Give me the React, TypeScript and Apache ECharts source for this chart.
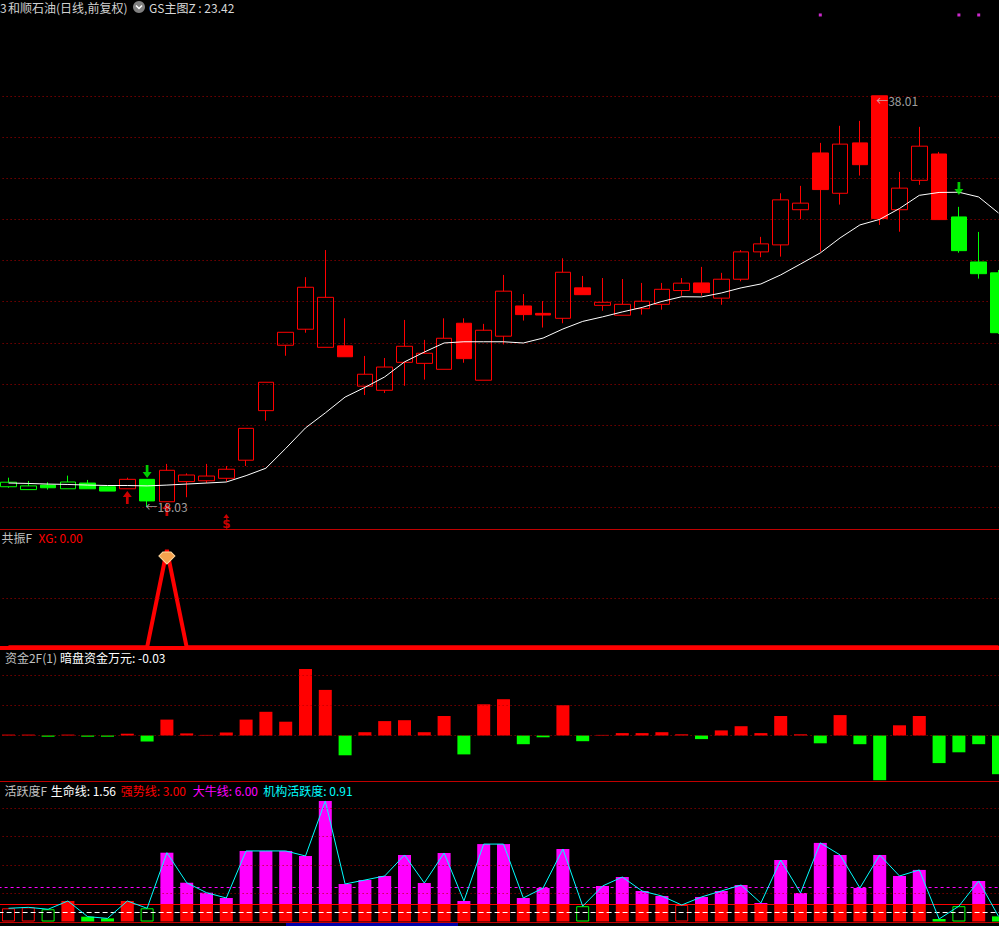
import React, { useEffect, useRef } from 'react';
import * as echarts from 'echarts';

// ---------- data ----------
const categories: string[] = Array.from({ length: 51 }, (_, i) => `K${i + 1}`);

const opens = [19.00, 18.86, 19.08, 18.90, 19.18, 19.00, 18.90, 19.36, 18.27, 19.25, 19.29, 19.41, 20.29, 22.70, 25.88, 26.66, 25.78, 25.85, 23.89, 23.69, 25.05, 25.00, 24.71, 26.95, 24.18, 26.32, 27.79, 27.43, 27.19, 28.67, 27.82, 27.34, 27.66, 27.87, 28.54, 28.91, 28.17, 29.09, 30.42, 30.76, 32.47, 35.23, 33.27, 35.72, 38.01, 32.47, 33.90, 35.18, 32.12, 29.93, 29.40];
const closes = [19.22, 19.04, 18.95, 19.23, 18.90, 18.79, 19.36, 18.31, 19.80, 19.57, 19.52, 19.85, 21.84, 24.08, 26.51, 28.70, 28.21, 25.32, 24.47, 24.82, 25.83, 25.49, 26.22, 25.23, 26.61, 28.51, 27.37, 27.35, 29.43, 28.34, 27.97, 27.87, 28.02, 28.60, 28.90, 28.44, 29.09, 30.42, 30.81, 32.95, 32.79, 33.45, 35.66, 34.66, 32.04, 33.52, 35.56, 31.99, 30.48, 29.36, 26.49];
const lows = [18.95, 18.86, 18.86, 18.90, 18.90, 18.79, 18.90, 18.03, 18.27, 18.49, 19.17, 19.25, 20.01, 22.21, 25.37, 26.49, 25.78, 25.32, 23.46, 23.56, 23.91, 24.21, 24.71, 25.03, 24.18, 25.92, 27.08, 26.74, 26.95, 28.34, 27.56, 27.34, 27.37, 27.61, 28.29, 28.29, 27.85, 28.99, 30.16, 30.19, 32.01, 30.43, 32.72, 34.13, 31.73, 31.40, 33.68, 31.99, 30.38, 29.12, 26.43];
const highs = [19.44, 19.28, 19.22, 19.54, 19.33, 19.00, 19.44, 19.36, 20.11, 19.65, 20.11, 20.01, 21.84, 24.08, 26.51, 29.19, 30.51, 27.19, 25.36, 25.26, 27.11, 26.14, 27.19, 27.19, 26.92, 29.30, 28.37, 28.03, 30.11, 29.25, 29.15, 29.10, 28.91, 28.91, 29.15, 29.69, 29.40, 30.51, 31.15, 33.27, 33.63, 35.72, 36.55, 36.79, 38.01, 34.31, 36.50, 35.28, 32.61, 31.39, 29.54];
// g = hollow green, G = solid green, r = hollow red, R = solid red
const candleKinds = ['g', 'g', 'G', 'g', 'G', 'G', 'r', 'G', 'r', 'r', 'r', 'r', 'r', 'r', 'r', 'r', 'r', 'R', 'r', 'r', 'r', 'r', 'r', 'R', 'r', 'r', 'R', 'R', 'r', 'R', 'r', 'r', 'r', 'r', 'r', 'R', 'r', 'r', 'r', 'r', 'r', 'R', 'r', 'R', 'R', 'r', 'r', 'R', 'G', 'G', 'G'];
const maLine = [19.18, 19.16, 19.13, 19.11, 19.08, 19.06, 19.06, 19.04, 19.08, 19.13, 19.18, 19.23, 19.54, 19.90, 20.86, 21.86, 22.59, 23.36, 23.83, 24.34, 25.07, 25.55, 25.99, 26.05, 26.05, 26.05, 25.99, 26.23, 26.67, 27.04, 27.26, 27.50, 27.72, 28.01, 28.24, 28.23, 28.42, 28.67, 28.86, 29.30, 29.83, 30.37, 31.10, 31.73, 32.00, 32.53, 33.17, 33.31, 33.32, 33.09, 32.31];
const priceTicks = { min: 18, max: 38, step: 2 };
const buyArrows = [[6, 18.79], [8, 18.21]];
const sellArrows = [[7, 19.43], [48, 33.19]];
const extremeLabels = [[7, 18.03], [44, 38.01]];
const dollarMarks = [[11, 17.29]];
const topDots = [[41, 41.94], [48, 41.94], [49, 41.94]];

const xgValues = [0, 0, 0, 0, 0, 0, 0, 0, 1, 0, 0, 0, 0, 0, 0, 0, 0, 0, 0, 0, 0, 0, 0, 0, 0, 0, 0, 0, 0, 0, 0, 0, 0, 0, 0, 0, 0, 0, 0, 0, 0, 0, 0, 0, 0, 0, 0, 0, 0, 0, 0];

const fundValues = [0.03, 0.03, -0.04, 0.03, -0.04, -0.04, 0.06, -0.2, 0.53, 0.07, 0.02, 0.1, 0.53, 0.79, 0.46, 2.22, 1.52, -0.66, 0.11, 0.48, 0.51, 0.11, 0.65, -0.63, 1.04, 1.21, -0.29, -0.06, 1.01, -0.19, 0.02, 0.08, 0.08, 0.11, 0.04, -0.12, 0.17, 0.31, 0.08, 0.65, 0.04, -0.26, 0.68, -0.29, -1.49, 0.34, 0.65, -0.92, -0.56, -0.29, -1.29];
const fundGrid = [0, 1, 2];

const activity = [2.33, 2.5, 2.16, 3.62, 0.85, 0.55, 3.62, 2.33, 12.14, 6.84, 5.08, 4.15, 12.45, 12.45, 12.45, 11.56, 21.27, 6.62, 7.32, 8.03, 11.74, 6.79, 12.09, 3.62, 13.66, 13.66, 4.15, 5.91, 12.79, 2.7, 6.26, 7.85, 5.38, 4.5, 2.91, 4.33, 5.38, 6.44, 3.26, 10.85, 5.03, 13.87, 11.74, 5.91, 11.74, 8.03, 9.1, 0.44, 2.7, 7.15, 0.91];
// M = magenta over red base, R = solid red, r = hollow red, g = hollow green, G = solid green
const activityKinds = ['r', 'r', 'g', 'R', 'G', 'G', 'R', 'g', 'M', 'M', 'M', 'M', 'M', 'M', 'M', 'M', 'M', 'M', 'M', 'M', 'M', 'M', 'M', 'M', 'M', 'M', 'M', 'M', 'M', 'g', 'M', 'M', 'M', 'M', 'r', 'M', 'M', 'M', 'M', 'M', 'M', 'M', 'M', 'M', 'M', 'M', 'M', 'G', 'g', 'M', 'G'];
const lifeLine = 1.56;
const strongLine = 3.0;
const bullLine = 6.0;
const activityGrid = [5, 10, 15, 20];

// ---------- styles ----------
const RED = '#ff0000';
const GREEN = '#00ff00';
const MAGENTA = '#ff00ff';
const CYAN = '#00ffff';
const GRIDRED = '#b00000';
const FONT = "'Noto Sans CJK SC', 'DejaVu Sans', sans-serif";
const DOT: any = [1, 3];
const UP_ARROW = 'path://M5,0 L10,6 L6.5,6 L6.5,13 L3.5,13 L3.5,6 L0,6 Z';
const DOWN_ARROW = 'path://M3.5,0 L6.5,0 L6.5,7 L10,7 L5,13 L0,7 L3.5,7 Z';
const GEM = 'path://M4,0 L12,0 L16,4 L8,12 L0,4 Z';

// the chart canvas is a bit wider than the page so the first and last bars are cut like the reference
const OX = 2; // page x = canvas x - OX
const CANVAS_W = 1012;

function styleFor(kind: string) {
  const isRed = kind === 'r' || kind === 'R' || kind === 'M';
  const c = isRed ? RED : GREEN;
  const hollow = kind === 'r' || kind === 'g';
  return {
    color: hollow ? 'rgba(0,0,0,0)' : c,
    color0: hollow ? 'rgba(0,0,0,0)' : c,
    borderColor: c,
    borderColor0: c,
    borderWidth: 1,
  };
}

function hText(text: string, x: number, y: number, fill: string, align = 'left') {
  return {
    type: 'text',
    silent: true,
    style: { text, x: x + OX, y, fill, fontSize: 12, fontFamily: FONT, align, verticalAlign: 'middle' },
  };
}

function hLine(y: number, color: string) {
  return {
    type: 'line',
    silent: true,
    shape: { x1: 0, y1: y, x2: CANVAS_W, y2: y },
    style: { stroke: color, lineWidth: 1 },
  };
}

export default function App() {
  const ref = useRef<HTMLDivElement>(null);

  useEffect(() => {
    document.body.style.margin = '0';
    document.body.style.background = '#000';
    document.body.style.overflow = 'hidden';
    if (!ref.current) return;
    const chart = echarts.init(ref.current, undefined, { renderer: 'svg' });

    const gl = 0.6;
    const gr = 1.6;
    const grids = [
      { left: gl, right: gr, top: 96, height: 411.3 },
      { left: gl, right: gr, top: 550, height: 97.3 },
      { left: gl, right: gr, top: 660.5, height: 120 },
      { left: gl, right: gr, top: 785.5, height: 136 },
    ];

    const xAxes = grids.map((_, k) => ({
      type: 'category',
      gridIndex: k,
      data: categories,
      boundaryGap: true,
      show: false,
    }));

    const dotted = { color: GRIDRED, type: DOT, width: 1 };

    const candleData = opens.map((o, i) => ({
      value: [o, closes[i], lows[i], highs[i]],
      itemStyle: styleFor(candleKinds[i]),
    }));

    const fundData = fundValues.map((v) => ({
      value: v,
      itemStyle: { color: v >= 0 ? RED : GREEN },
    }));

    const baseData = activity.map((v, i) => {
      const k = activityKinds[i];
      const st = styleFor(k);
      return {
        value: k === 'M' ? strongLine : v,
        itemStyle: { color: st.color, borderColor: st.borderColor, borderWidth: k === 'r' || k === 'g' ? 1 : 0 },
      };
    });
    const topData = activity.map((v, i) => (activityKinds[i] === 'M' ? v - strongLine : '-'));

    const mkLine = (data: any[]) => ({
      silent: true,
      symbol: ['none', 'none'],
      label: { show: false },
      animation: false,
      data,
    });

    const option: any = {
      animation: false,
      backgroundColor: '#000000',
      grid: grids,
      xAxis: xAxes,
      yAxis: [
        {
          type: 'value',
          gridIndex: 0,
          min: priceTicks.min,
          max: priceTicks.max,
          interval: priceTicks.step,
          axisLine: { show: false },
          axisTick: { show: false },
          axisLabel: { show: false },
          splitLine: { show: true, lineStyle: dotted },
        },
        { type: 'value', gridIndex: 1, min: 0, max: 1, show: false, splitLine: { show: false } },
        { type: 'value', gridIndex: 2, min: -1.5, max: 2.5, show: false, splitLine: { show: false } },
        { type: 'value', gridIndex: 3, min: 0, max: 24, show: false, splitLine: { show: false } },
      ],
      series: [
        {
          type: 'candlestick',
          xAxisIndex: 0,
          yAxisIndex: 0,
          barWidth: 16,
          clip: false,
          data: candleData,
          z: 3,
        },
        {
          type: 'line',
          xAxisIndex: 0,
          yAxisIndex: 0,
          data: maLine,
          symbol: 'none',
          lineStyle: { color: '#ffffff', width: 1 },
          z: 5,
        },
        {
          type: 'scatter',
          xAxisIndex: 0,
          yAxisIndex: 0,
          clip: false,
          symbol: UP_ARROW,
          symbolSize: [9, 13],
          symbolOffset: [0, 6.5],
          itemStyle: { color: RED },
          data: buyArrows,
          z: 6,
        },
        {
          type: 'scatter',
          xAxisIndex: 0,
          yAxisIndex: 0,
          clip: false,
          symbol: DOWN_ARROW,
          symbolSize: [9, 13],
          symbolOffset: [0, -6.5],
          itemStyle: { color: GREEN },
          data: sellArrows,
          z: 6,
        },
        {
          type: 'scatter',
          xAxisIndex: 0,
          yAxisIndex: 0,
          clip: false,
          symbolSize: 1,
          itemStyle: { color: 'rgba(0,0,0,0)' },
          data: extremeLabels.map((p, k) => ({
            value: p,
            label: {
              show: true,
              position: 'right',
              distance: 0,
              formatter: '←' + p[1].toFixed(2),
              color: '#c8c8c8',
              fontSize: 12,
              fontFamily: FONT,
              offset: k === 0 ? [-2, 0] : [-4, 5],
            },
          })),
          z: 6,
        },
        {
          type: 'scatter',
          xAxisIndex: 0,
          yAxisIndex: 0,
          clip: false,
          symbol: 'triangle',
          symbolSize: [6, 4],
          symbolOffset: [0, -6],
          itemStyle: { color: RED },
          data: dollarMarks,
          label: {
            show: true,
            position: 'inside',
            offset: [0, 8],
            formatter: '$',
            color: RED,
            fontSize: 12,
            fontWeight: 'bold',
            fontFamily: 'DejaVu Sans',
          },
          z: 6,
        },
        {
          type: 'scatter',
          xAxisIndex: 0,
          yAxisIndex: 0,
          clip: false,
          symbol: 'rect',
          symbolSize: 3,
          itemStyle: { color: '#ff33ff' },
          data: topDots,
          z: 6,
        },
        {
          type: 'line',
          xAxisIndex: 1,
          yAxisIndex: 1,
          data: xgValues,
          symbol: 'none',
          clip: false,
          lineStyle: { color: RED, width: 4 },
          z: 4,
          markLine: mkLine([
            { yAxis: 0.5, lineStyle: dotted },
            { yAxis: 0, lineStyle: { color: RED, width: 4, type: 'solid' } },
          ]),
          markPoint: {
            silent: true,
            animation: false,
            data: [
              {
                coord: [categories[xgValues.indexOf(1)], 1],
                symbol: GEM,
                symbolSize: [16, 12],
                symbolOffset: [0, 8],
                itemStyle: { color: '#f6a24e', borderColor: '#ffd9a0', borderWidth: 1 },
                label: { show: false },
              },
            ],
          },
        },
        {
          type: 'bar',
          xAxisIndex: 2,
          yAxisIndex: 2,
          barWidth: 13,
          data: fundData,
          z: 3,
          markLine: mkLine(fundGrid.map((v) => ({ yAxis: v, lineStyle: dotted }))),
        },
        {
          type: 'bar',
          xAxisIndex: 3,
          yAxisIndex: 3,
          stack: 'act',
          barWidth: 13,
          data: baseData,
          z: 3,
        },
        {
          type: 'bar',
          xAxisIndex: 3,
          yAxisIndex: 3,
          stack: 'act',
          barWidth: 13,
          data: topData,
          itemStyle: { color: MAGENTA },
          z: 3,
        },
        {
          type: 'line',
          xAxisIndex: 3,
          yAxisIndex: 3,
          data: activity,
          symbol: 'none',
          lineStyle: { color: CYAN, width: 1 },
          z: 5,
          markLine: mkLine([
            ...activityGrid.map((v) => ({ yAxis: v, lineStyle: dotted })),
            { yAxis: bullLine, lineStyle: { color: MAGENTA, width: 1, type: [3, 3] } },
            { yAxis: strongLine, lineStyle: { color: RED, width: 1, type: 'solid' } },
            { yAxis: lifeLine, lineStyle: { color: '#ffffff', width: 1, type: [5, 3] } },
          ]),
        },
      ],
      graphic: [
        hLine(529.5, '#c00000'),
        hLine(649.5, '#c00000'),
        hLine(781.5, '#c00000'),
        hLine(922.5, '#c00000'),
        {
          type: 'rect',
          silent: true,
          shape: { x: 286 + OX, y: 923, width: 172, height: 3 },
          style: { fill: '#0000a8' },
        },
        hText('3', 0, 7, '#d0d0d0'),
        hText('和顺石油(日线,前复权)', 8, 7, '#d0d0d0'),
        {
          type: 'circle',
          silent: true,
          shape: { cx: 139 + OX, cy: 7, r: 6 },
          style: { fill: '#808080' },
        },
        {
          type: 'polyline',
          silent: true,
          shape: { points: [[136 + OX, 5.5], [139 + OX, 8.5], [142 + OX, 5.5]] },
          style: { stroke: '#ffffff', lineWidth: 1.5, fill: 'none' },
        },
        hText('GS主图Z : 23.42', 149, 7, '#d8d8d8'),
        hText('共振F', 32, 537.5, '#c0c0c0', 'right'),
        hText('XG: 0.00', 38.5, 537.5, RED),
        hText('资金2F(1)', 57, 657.5, '#c0c0c0', 'right'),
        hText('暗盘资金万元: -0.03', 60, 657.5, '#ffffff'),
        hText('活跃度F', 47, 790, '#c0c0c0', 'right'),
        hText('生命线: 1.56', 50.7, 790, '#ffffff'),
        hText('强势线: 3.00', 120.7, 790, RED),
        hText('大牛线: 6.00', 192.7, 790, MAGENTA),
        hText('机构活跃度: 0.91', 263.3, 790, CYAN),
      ],
    };

    chart.setOption(option);
    return () => chart.dispose();
  }, []);

  return (
    <div style={{ position: 'relative', width: 999, height: 926, overflow: 'hidden', background: '#000' }}>
      <div ref={ref} style={{ position: 'absolute', left: -OX, top: 0, width: CANVAS_W, height: 926 }} />
    </div>
  );
}
